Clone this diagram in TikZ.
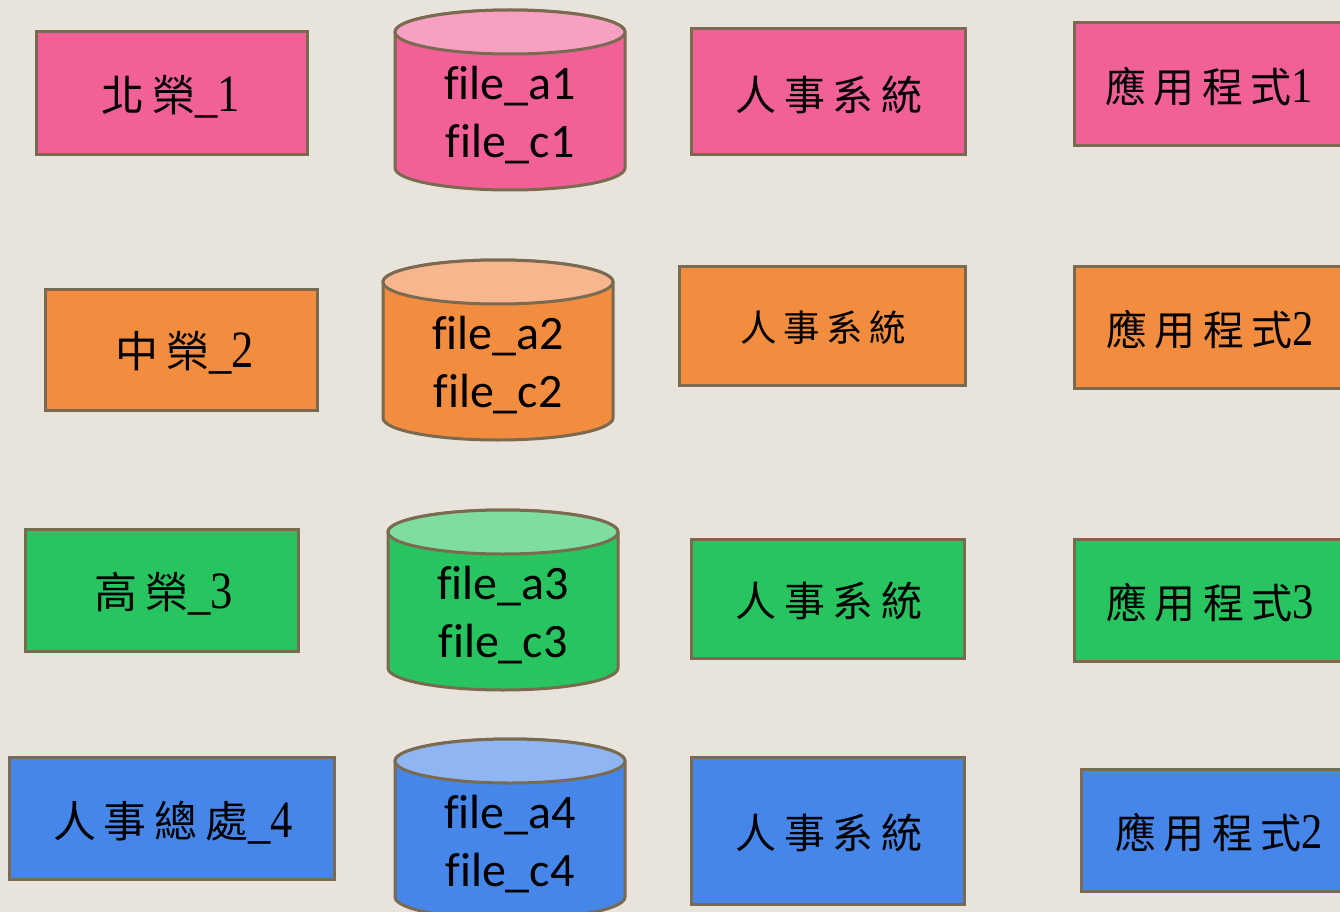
\documentclass[tikz,border=0pt]{standalone}
\usepackage{fontspec}
\setmainfont[Ligatures=NoCommon]{Carlito}
\newfontfamily\cjkfont[LetterSpace=18]{Noto Sans CJK TC}
\newfontfamily\digitfont[FakeStretch=0.85,Scale=1.22]{Liberation Serif}
\definecolor{bgc}{HTML}{E8E4DC}
\definecolor{edgec}{HTML}{7A6A50}
\definecolor{pinkc}{HTML}{F26098}
\definecolor{pinkl}{HTML}{F7A0C2}
\definecolor{orangec}{HTML}{F28C3E}
\definecolor{orangel}{HTML}{F7B68E}
\definecolor{greenc}{HTML}{27C45F}
\definecolor{greenl}{HTML}{7FDDA0}
\definecolor{bluec}{HTML}{4686E8}
\definecolor{bluel}{HTML}{8FB5F2}
\tikzset{
  boxstyle/.style={draw=edgec,line width=3pt,fill=#1},
  labeltext/.style={inner sep=0pt,font=\fontsize{41}{44}\selectfont\cjkfont,text=black},
  widetext/.style={inner sep=0pt,font=\fontsize{43}{46}\selectfont\cjkfont,text=black},
  smalltext/.style={inner sep=0pt,font=\fontsize{36.5}{40}\selectfont\cjkfont,text=black},
  filetext/.style={inner sep=0pt,font=\fontsize{48}{58}\selectfont,text=black,align=center},
  cyledge/.style={draw=edgec,line width=3pt}
}
\newcommand{\rectbox}[6]{% name, x0,y0,x1,y1, colour
  \path[boxstyle=#6] (#2,#3) rectangle (#4-0.5,#5-0.5);
}
\newcommand{\cyl}[5]{% cx,top,bottom,colour,light
  \path[cyledge,fill=#4] (#1-115,#2+22) -- (#1-115,#3-22) arc[start angle=180,end angle=0,x radius=115,y radius=22] -- (#1+115,#2+22) arc[start angle=0,end angle=-180,x radius=115,y radius=22] -- cycle;
  \path[cyledge,fill=#5] (#1,#2+22) ellipse[x radius=115,y radius=22];
}
\begin{document}
\begin{tikzpicture}[x=1pt,y=-1pt]
\useasboundingbox (0,0) rectangle (1340,912);
\fill[bgc] (0,0) rectangle (1340,912);
\clip (0,0) rectangle (1340,912);
% column 1
\rectbox{a1}{36}{32}{308}{155}{pinkc}
\rectbox{a2}{45}{289}{317.5}{411}{orangec}
\rectbox{a3}{25}{529}{298.5}{652}{greenc}
\rectbox{a4}{9}{757}{334.5}{880}{bluec}
\node[widetext] (ta1) at (171,97) {北榮\digitfont\_1};
\node[widetext] (ta2) at (185,353) {中榮\digitfont\_2};
\node[widetext] (ta3) at (164,594) {高榮\digitfont\_3};
\node[widetext] (ta4) at (173,823) {人事總處\digitfont\_4};
% cylinders
\cyl{510}{10}{190}{pinkc}{pinkl}
\cyl{498}{260}{440}{orangec}{orangel}
\cyl{503}{510}{690}{greenc}{greenl}
\cyl{510}{739}{919}{bluec}{bluel}
\node[filetext] (f1) at (510,115) {file\_a1\\file\_c1};
\node[filetext] (f2) at (498,365) {file\_a2\\file\_c2};
\node[filetext] (f3) at (503,615) {file\_a3\\file\_c3};
\node[filetext] (f4) at (510,844) {file\_a4\\file\_c4};
% column 3
\rectbox{s1}{691}{29}{966}{155}{pinkc}
\rectbox{s2}{679}{266}{966}{386}{orangec}
\rectbox{s3}{691}{539}{965}{659}{greenc}
\rectbox{s4}{691}{757}{965}{905}{bluec}
\node[labeltext] (ts1) at (829,95) {人事系統};
\node[smalltext] (ts2) at (823,328) {人事系統};
\node[labeltext] (ts3) at (829,601) {人事系統};
\node[labeltext] (ts4) at (829,833) {人事系統};
% column 4
\rectbox{p1}{1074}{23}{1350}{146}{pinkc}
\rectbox{p2}{1074}{266}{1350}{389}{orangec}
\rectbox{p3}{1074}{539}{1350}{662}{greenc}
\rectbox{p4}{1081.5}{769.5}{1350}{892}{bluec}
\node[labeltext] (tp1) at (1209,87) {應用程式\digitfont 1};
\node[labeltext] (tp2) at (1210,330) {應用程式\digitfont 2};
\node[labeltext] (tp3) at (1210,603) {應用程式\digitfont 3};
\node[labeltext] (tp4) at (1219,833) {應用程式\digitfont 2};
\end{tikzpicture}
\end{document}
